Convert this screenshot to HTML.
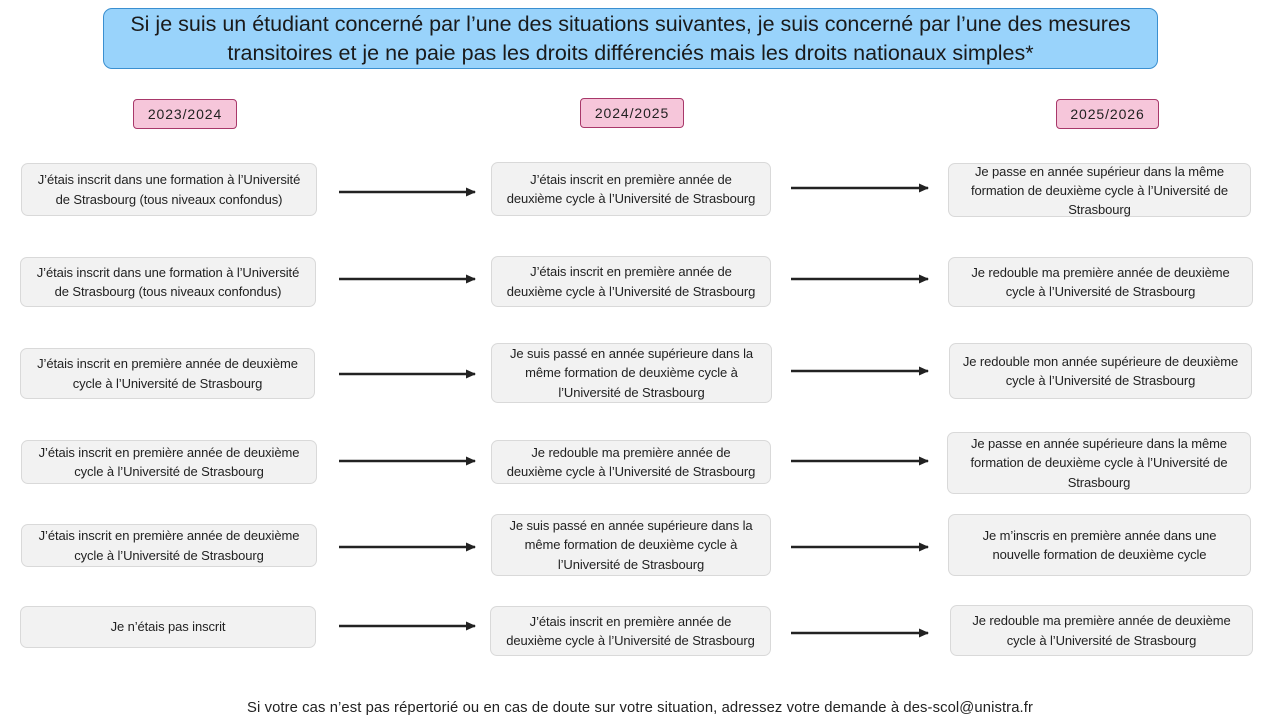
<!DOCTYPE html>
<html><head><meta charset="utf-8"><style>
body{margin:0;width:1280px;height:720px;background:#fff;position:relative;overflow:hidden;font-family:"Liberation Sans",sans-serif;color:#222}
.b{position:absolute;box-sizing:border-box;background:#f2f2f2;border:1px solid #d9d9d9;border-radius:7px;display:flex;align-items:center;justify-content:center;text-align:center;font-size:13px;line-height:19.5px;letter-spacing:-0.1px;white-space:nowrap}
.y{position:absolute;box-sizing:border-box;background:#f6c6da;border:1px solid #a8386a;border-radius:4px;display:flex;align-items:center;justify-content:center;font-size:14px;letter-spacing:0.9px}
.t{position:absolute;left:103px;top:8px;width:1055px;height:61px;box-sizing:border-box;background:#99d3fb;border:1px solid #3a8fd0;border-radius:9px;text-align:center;font-size:21.5px;line-height:29px;color:#1a1a1a;padding-top:1px;white-space:nowrap}
.f{position:absolute;left:0;width:1280px;top:700px;text-align:center;font-size:14.8px;letter-spacing:0.1px}
svg{position:absolute;left:0;top:0}
</style></head><body>
<div class="t">Si je suis un étudiant concerné par l’une des situations suivantes, je suis concerné par l’une des mesures<br>transitoires et je ne paie pas les droits différenciés mais les droits nationaux simples*</div>
<div class="y" style="left:133px;top:99px;width:104px;height:30px">2023/2024</div>
<div class="y" style="left:580px;top:98px;width:104px;height:30px">2024/2025</div>
<div class="y" style="left:1056px;top:99px;width:103px;height:30px">2025/2026</div>

<div class="b" style="left:21px;top:163px;width:296px;height:53px">J’étais inscrit dans une formation à l’Université<br>de Strasbourg (tous niveaux confondus)</div>
<div class="b" style="left:20px;top:257px;width:296px;height:50px">J’étais inscrit dans une formation à l’Université<br>de Strasbourg (tous niveaux confondus)</div>
<div class="b" style="left:20px;top:348px;width:295px;height:51px">J’étais inscrit en première année de deuxième<br>cycle à l’Université de Strasbourg</div>
<div class="b" style="left:21px;top:440px;width:296px;height:44px">J’étais inscrit en première année de deuxième<br>cycle à l’Université de Strasbourg</div>
<div class="b" style="left:21px;top:524px;width:296px;height:43px">J’étais inscrit en première année de deuxième<br>cycle à l’Université de Strasbourg</div>
<div class="b" style="left:20px;top:606px;width:296px;height:42px">Je n’étais pas inscrit</div>

<div class="b" style="left:491px;top:162px;width:280px;height:54px">J’étais inscrit en première année de<br>deuxième cycle à l’Université de Strasbourg</div>
<div class="b" style="left:491px;top:256px;width:280px;height:51px">J’étais inscrit en première année de<br>deuxième cycle à l’Université de Strasbourg</div>
<div class="b" style="left:491px;top:343px;width:281px;height:60px">Je suis passé en année supérieure dans la<br>même formation de deuxième cycle à<br>l’Université de Strasbourg</div>
<div class="b" style="left:491px;top:440px;width:280px;height:44px">Je redouble ma première année de<br>deuxième cycle à l’Université de Strasbourg</div>
<div class="b" style="left:491px;top:514px;width:280px;height:62px">Je suis passé en année supérieure dans la<br>même formation de deuxième cycle à<br>l’Université de Strasbourg</div>
<div class="b" style="left:490px;top:606px;width:281px;height:50px">J’étais inscrit en première année de<br>deuxième cycle à l’Université de Strasbourg</div>

<div class="b" style="left:948px;top:163px;width:303px;height:54px;line-height:19px">Je passe en année supérieur dans la même<br>formation de deuxième cycle à l’Université de<br>Strasbourg</div>
<div class="b" style="left:948px;top:257px;width:305px;height:50px">Je redouble ma première année de deuxième<br>cycle à l’Université de Strasbourg</div>
<div class="b" style="left:949px;top:343px;width:303px;height:56px">Je redouble mon année supérieure de deuxième<br>cycle à l’Université de Strasbourg</div>
<div class="b" style="left:947px;top:432px;width:304px;height:62px">Je passe en année supérieure dans la même<br>formation de deuxième cycle à l’Université de<br>Strasbourg</div>
<div class="b" style="left:948px;top:514px;width:303px;height:62px">Je m’inscris en première année dans une<br>nouvelle formation de deuxième cycle</div>
<div class="b" style="left:950px;top:605px;width:303px;height:51px">Je redouble ma première année de deuxième<br>cycle à l’Université de Strasbourg</div>

<svg width="1280" height="720">
<defs><marker id="a" markerWidth="10" markerHeight="10" refX="9" refY="5" orient="auto" markerUnits="userSpaceOnUse"><path d="M0,0.5 L10,5 L0,9.5 z" fill="#222"/></marker></defs>
<g stroke="#222" stroke-width="2.5" marker-end="url(#a)">
<line x1="339" y1="192" x2="475" y2="192"/>
<line x1="339" y1="279" x2="475" y2="279"/>
<line x1="339" y1="374" x2="475" y2="374"/>
<line x1="339" y1="461" x2="475" y2="461"/>
<line x1="339" y1="547" x2="475" y2="547"/>
<line x1="339" y1="626" x2="475" y2="626"/>
<line x1="791" y1="188" x2="928" y2="188"/>
<line x1="791" y1="279" x2="928" y2="279"/>
<line x1="791" y1="371" x2="928" y2="371"/>
<line x1="791" y1="461" x2="928" y2="461"/>
<line x1="791" y1="547" x2="928" y2="547"/>
<line x1="791" y1="633" x2="928" y2="633"/>
</g></svg>
<div class="f">Si votre cas n’est pas répertorié ou en cas de doute sur votre situation, adressez votre demande à des-scol@unistra.fr</div>
</body></html>
